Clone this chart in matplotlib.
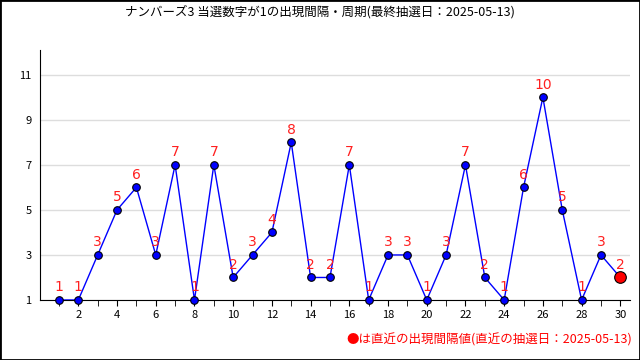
import matplotlib
matplotlib.use("Agg")
import matplotlib.pyplot as plt
from matplotlib.patches import Rectangle

plt.rcParams['font.family'] = ['Noto Sans CJK JP', 'DejaVu Sans']

# データ
kai = list(range(1, 31))
kankaku = [1, 1, 3, 5, 6, 3, 7, 1, 7, 2, 3, 4, 8, 2, 2, 7, 1, 3, 3, 1,
           3, 7, 2, 1, 6, 10, 5, 1, 3, 2]
y_ticks = [1, 3, 5, 7, 9, 11]
x_ticks = list(range(2, 31, 2))
title = "ナンバーズ3 当選数字が1の出現間隔・周期(最終抽選日：2025-05-13)"
note = "●は直近の出現間隔値(直近の抽選日：2025-05-13)"

fig = plt.figure(figsize=(6.4, 3.6), dpi=100)
ax = fig.add_axes([40/640, 1 - 300/360, 590/640, 250/360])

ax.plot(kai, kankaku, color='#0000ff', lw=1, zorder=3)
ax.scatter(kai[:-1], kankaku[:-1], s=30, color='#0000ff', edgecolors='black',
           linewidths=0.8, zorder=4, clip_on=False)
ax.scatter(kai[-1:], kankaku[-1:], s=70, color='#ff0000', edgecolors='black',
           linewidths=0.8, zorder=5, clip_on=False)

for x, v in zip(kai, kankaku):
    ax.annotate(str(v), (x, v), xytext=(0, 4), textcoords='offset points',
                ha='center', va='bottom', color='#ff2020', fontsize=10,
                family=['DejaVu Sans'], zorder=6)

ax.set_xlim(0.02, 30.5)
ax.set_ylim(1, 12.1)
ax.set_yticks(y_ticks)
ax.set_xticks(x_ticks)
ax.set_xticks(kai, minor=True)
ax.tick_params(axis='both', labelsize=8, length=4, direction='out')
ax.tick_params(axis='x', which='minor', length=4)
ax.tick_params(axis='y', length=0, pad=6)
ax.yaxis.grid(True, color='#dddddd', lw=1)
ax.set_axisbelow(True)
for s in ['top', 'right']:
    ax.spines[s].set_visible(False)

fig.text(0.5, 1 - 12/360, title, ha='center', va='center', fontsize=9)
fig.text(632/640, 1 - 340/360, note, ha='right', va='center', fontsize=9,
         color='#ff0000')

fig.patches.append(Rectangle((0, 0), 1, 1, transform=fig.transFigure,
                             fill=False, edgecolor='black', lw=2))

fig.savefig('out.png', dpi=100)
